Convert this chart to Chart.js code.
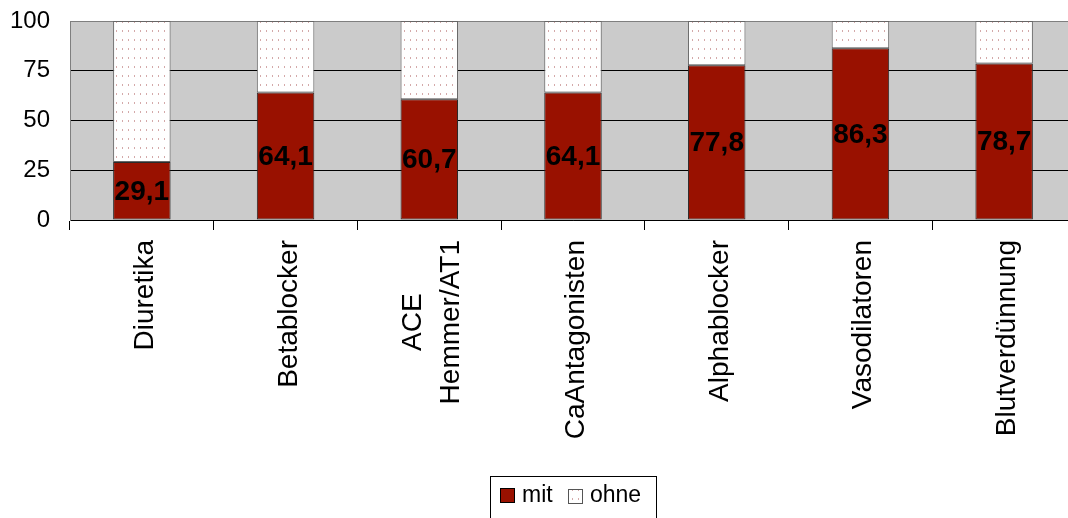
<!DOCTYPE html>
<html>
<head>
<meta charset="utf-8">
<script src="https://cdn.jsdelivr.net/npm/chart.js@4"></script>
<style>
    html, body { margin: 0; padding: 0; background: #fff; overflow: hidden; }
    #wrap { width: 1076px; height: 518px; position: relative; }
</style>
</head>
<body>
<div id="wrap"><canvas id="chart"></canvas></div>
<script>
const categories = ['Diuretika', 'Betablocker', ['ACE', 'Hemmer/AT1'], 'CaAntagonisten', 'Alphablocker', 'Vasodilatoren', 'Blutverdünnung'];
const mitValues = [29.1, 64.1, 60.7, 64.1, 77.8, 86.3, 78.7];
const ohneValues = [70.9, 35.9, 39.3, 35.9, 22.2, 13.7, 21.3];
const yTicks = [0, 25, 50, 75, 100];
const seriesNames = ['mit', 'ohne'];

const FONT = "'Liberation Sans', Arial, sans-serif";
const RED = '#991100';

// dotted fill for the "ohne" part
function makePattern() {
    const c = document.createElement('canvas');
    c.width = 6;
    c.height = 9;
    const g = c.getContext('2d');
    g.fillStyle = '#ffffff';
    g.fillRect(0, 0, 6, 9);
    g.fillStyle = '#d4a9a9';
    g.fillRect(2, 3, 1, 2);
    return g.createPattern(c, 'repeat');
}
const dotted = makePattern();

const plotBackground = {
    id: 'plotBackground',
    beforeDraw(chart) {
        const a = chart.chartArea;
        const ctx = chart.ctx;
        ctx.save();
        ctx.fillStyle = '#cbcbcb';
        ctx.fillRect(a.left, a.top, a.right - a.left, a.bottom - a.top);
        ctx.restore();
    }
};

const valueLabels = {
    id: 'valueLabels',
    afterDatasetsDraw(chart) {
        const ctx = chart.ctx;
        const meta = chart.getDatasetMeta(0);
        ctx.save();
        ctx.font = 'bold 28px ' + FONT;
        ctx.fillStyle = '#000';
        ctx.textAlign = 'center';
        ctx.textBaseline = 'middle';
        meta.data.forEach((bar, i) => {
            const y = (bar.y + bar.base) / 2;
            ctx.fillText(mitValues[i].toFixed(1).replace('.', ','), bar.x, y + 1);
        });
        ctx.restore();
    }
};

// rotated category labels, lines centred inside the block
const categoryLabels = {
    id: 'categoryLabels',
    afterDraw(chart) {
        const ctx = chart.ctx;
        const xs = chart.scales.x;
        const top = xs.top + 20;
        const lineH = 38;
        ctx.save();
        ctx.font = '28px ' + FONT;
        ctx.fillStyle = '#000';
        ctx.textAlign = 'center';
        ctx.textBaseline = 'alphabetic';
        categories.forEach((label, i) => {
            const lines = Array.isArray(label) ? label : [label];
            const w = Math.max(...lines.map(l => ctx.measureText(l).width));
            const cx = xs.getPixelForValue(i);
            const first = cx + 11 - (lines.length - 1) * lineH / 2;
            lines.forEach((line, j) => {
                ctx.save();
                ctx.translate(first + j * lineH, top + w / 2);
                ctx.rotate(-Math.PI / 2);
                ctx.fillText(line, 0, 0);
                ctx.restore();
            });
        });
        ctx.restore();
    }
};

const boxLegend = {
    id: 'boxLegend',
    afterDraw(chart) {
        const ctx = chart.ctx;
        ctx.save();
        ctx.strokeStyle = '#000';
        ctx.lineWidth = 1;
        ctx.strokeRect(490.5, 476.5, 166, 60);
        ctx.font = '23px ' + FONT;
        ctx.textBaseline = 'middle';
        // mit
        ctx.fillStyle = RED;
        ctx.fillRect(500, 488, 15, 15);
        ctx.strokeStyle = '#000';
        ctx.strokeRect(500.5, 488.5, 14, 14);
        ctx.fillStyle = '#000';
        ctx.fillText(seriesNames[0], 522, 496);
        // ohne
        ctx.fillStyle = dotted;
        ctx.fillRect(568, 489, 14, 14);
        ctx.strokeStyle = '#555';
        ctx.strokeRect(568.5, 489.5, 14, 14);
        ctx.fillStyle = '#000';
        ctx.fillText(seriesNames[1], 590, 496);
        ctx.restore();
    }
};

new Chart(document.getElementById('chart'), {
    type: 'bar',
    data: {
        labels: categories,
        datasets: [{
            label: seriesNames[0],
            data: mitValues,
            backgroundColor: RED,
            borderColor: '#2a2a2a',
            borderWidth: 1,
            borderSkipped: false,
            barPercentage: 0.4,
            categoryPercentage: 1
        }, {
            label: seriesNames[1],
            data: ohneValues,
            backgroundColor: dotted,
            borderColor: '#666',
            borderWidth: 1,
            borderSkipped: false,
            barPercentage: 0.4,
            categoryPercentage: 1
        }]
    },
    options: {
        responsive: true,
        maintainAspectRatio: false,
        animation: false,
        layout: { padding: { left: 8, right: 0, top: 21, bottom: 50 } },
        plugins: {
            legend: { display: false },
            tooltip: { enabled: false }
        },
        scales: {
            x: {
                stacked: true,
                grid: {
                    display: true,
                    drawOnChartArea: false,
                    offset: true,
                    color: '#000',
                    tickLength: 10
                },
                border: { color: '#000', width: 1 },
                ticks: { display: false },
                afterFit(scale) { scale.height = 248; }
            },
            y: {
                stacked: true,
                min: 0,
                max: 100,
                afterBuildTicks(scale) {
                    scale.ticks = yTicks.map(v => ({ value: v }));
                },
                grid: {
                    drawTicks: true,
                    tickLength: 17,
                    tickColor: 'rgba(0,0,0,0)',
                    color: ctx => ctx.tick && ctx.tick.value === 100 ? '#7f7f7f' : '#000',
                    lineWidth: 1
                },
                border: { color: '#7f7f7f', width: 1 },
                ticks: {
                    color: '#000',
                    font: { family: FONT, size: 24 },
                    padding: 3
                },
                afterFit(scale) { scale.width = 62; }
            }
        }
    },
    plugins: [plotBackground, valueLabels, categoryLabels, boxLegend]
});
</script>
</body>
</html>
